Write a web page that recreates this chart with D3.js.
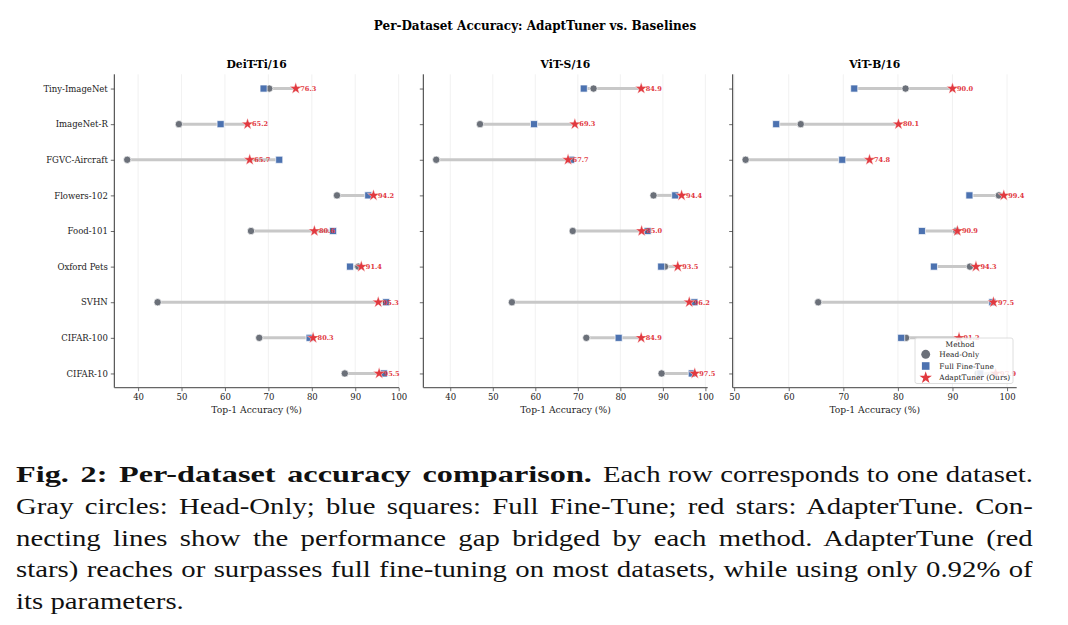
<!DOCTYPE html>
<html>
<head>
<meta charset="utf-8">
<script src="https://cdn.jsdelivr.net/npm/d3@7"></script>
<style>
body { margin: 0; background: #fff; }
</style>
</head>
<body>
<script>
// data

var datasets = ["Tiny-ImageNet", "ImageNet-R", "FGVC-Aircraft", "Flowers-102", "Food-101", "Oxford Pets", "SVHN", "CIFAR-100", "CIFAR-10"];
var models = ["DeiT-Ti/16", "ViT-S/16", "ViT-B/16"];
var methods = ["Head-Only", "Full Fine-Tune", "AdaptTuner (Ours)"];

// DeiT-Ti/16
var headDeit = [70.2, 49.4, 37.5, 85.8, 66.0, 90.7, 44.5, 67.9, 87.6];
var fullDeit = [68.9, 59.0, 72.5, 93.0, 84.9, 88.8, 97.1, 79.5, 96.6];
var adaptDeit = [76.3, 65.2, 65.7, 94.2, 80.6, 91.4, 95.3, 80.3, 95.5];

// ViT-S/16
var headVitS = [73.7, 47.0, 36.7, 87.8, 68.8, 90.5, 54.5, 72.0, 89.7];
var fullVitS = [71.4, 59.7, 68.4, 92.9, 86.4, 89.6, 97.4, 79.6, 96.8];
var adaptVitS = [84.9, 69.3, 67.7, 94.4, 85.0, 93.5, 96.2, 84.9, 97.5];

// ViT-B/16
var headVitB = [81.4, 62.2, 52.1, 98.5, 90.7, 93.2, 65.4, 81.5, 94.6];
var fullVitB = [72.0, 57.7, 69.8, 93.1, 84.4, 86.6, 97.3, 80.6, 95.1];
var adaptVitB = [90.0, 80.1, 74.8, 99.4, 90.9, 94.3, 97.5, 91.2, 97.9];

var xTicksA = [40, 50, 60, 70, 80, 90, 100];
var xTicksB = [50, 60, 70, 80, 90, 100];

var captionBold = "Fig. 2: Per-dataset accuracy comparison.";
var captionLines = [
  "Each row corresponds to one dataset.",
  "Gray circles: Head-Only; blue squares: Full Fine-Tune; red stars: AdapterTune. Con-",
  "necting lines show the performance gap bridged by each method. AdapterTune (red",
  "stars) reaches or surpasses full fine-tuning on most datasets, while using only 0.92% of",
  "its parameters."
];

// colors
var cHead = "#6b7079";
var cFull = "#4c72b0";
var cAdapt = "#e1393f";
var serif = "DejaVu Serif";

var W = 1068, H = 625;
var svg = d3.select("body").append("svg")
  .attr("width", W)
  .attr("height", H)
  .attr("id", "fig");

// main title
svg.append("text")
  .attr("x", 535)
  .attr("y", 30)
  .attr("text-anchor", "middle")
  .style("font-family", serif)
  .style("font-size", "12px")
  .attr("font-weight", "bold")
  .text("Per-Dataset Accuracy: AdaptTuner vs. Baselines");

// panel layout (pixel extents of each axes box)
var panels = [
  {name: models[0], left: 114.3, right: 399, head: headDeit, full: fullDeit, adapt: adaptDeit, ticks: xTicksA, labels: true},
  {name: models[1], left: 423.3, right: 707.7, head: headVitS, full: fullVitS, adapt: adaptVitS, ticks: xTicksA, labels: false},
  {name: models[2], left: 732.7, right: 1016.7, head: headVitB, full: fullVitB, adapt: adaptVitB, ticks: xTicksB, labels: false}
];
var plotTop = 74.3, plotBottom = 387.7;

var yScale = d3.scaleLinear()
  .domain([-0.4, datasets.length - 1 + 0.4])
  .range([plotTop, plotBottom]);

var sym = {
  head: d3.symbol().type(d3.symbolCircle).size(42),
  full: d3.symbol().type(d3.symbolSquare).size(50),
  adapt: d3.symbol().type(d3.symbolStar).size(44)
};

panels.forEach(function(p) {
  var all = p.head.concat(p.full, p.adapt);
  var lo = d3.min(all), hi = d3.max(all);
  var pad = (hi - lo) * 0.05;

  var xScale = d3.scaleLinear()
    .domain([lo - pad, hi + pad])
    .range([p.left, p.right]);

  var g = svg.append("g").attr("class", "panel");

  // vertical grid
  g.selectAll(".grid")
    .data(p.ticks)
    .enter().append("line")
    .attr("class", "grid")
    .attr("x1", function(d) { return xScale(d); })
    .attr("x2", function(d) { return xScale(d); })
    .attr("y1", plotTop)
    .attr("y2", plotBottom)
    .style("stroke", "#eeeeee")
    .style("stroke-width", 0.8);

  // panel title
  g.append("text")
    .attr("x", (p.left + p.right) / 2)
    .attr("y", 68)
    .attr("text-anchor", "middle")
    .style("font-family", serif)
    .style("font-size", "10.8px")
    .attr("font-weight", "bold")
    .text(p.name);

  // x axis
  var xAxis = g.append("g")
    .attr("transform", "translate(0," + plotBottom + ")")
    .call(d3.axisBottom(xScale).tickValues(p.ticks).tickSize(3.5).tickPadding(2.5));
  xAxis.select(".domain").remove();
  xAxis.selectAll("line").style("stroke", "#444").style("stroke-width", 0.8);
  xAxis.selectAll("text")
    .style("font-family", serif)
    .style("font-size", "8.5px")
    .style("fill", "#222");

  // y axis
  var yAxis = g.append("g")
    .attr("transform", "translate(" + p.left + ",0)")
    .call(d3.axisLeft(yScale)
      .tickValues(d3.range(datasets.length))
      .tickFormat(function(i) { return p.labels ? datasets[i] : ""; })
      .tickSize(3.5).tickPadding(3));
  yAxis.select(".domain").remove();
  yAxis.selectAll("line").style("stroke", "#444").style("stroke-width", 0.8);
  yAxis.selectAll("text")
    .style("font-family", serif)
    .style("font-size", "8.5px")
    .style("fill", "#222");

  // spines
  g.append("line")
    .attr("x1", p.left).attr("x2", p.left)
    .attr("y1", plotTop).attr("y2", plotBottom)
    .style("stroke", "#333").style("stroke-width", 1);
  g.append("line")
    .attr("x1", p.left).attr("x2", p.right)
    .attr("y1", plotBottom).attr("y2", plotBottom)
    .style("stroke", "#666").style("stroke-width", 1.3);

  // x label
  g.append("text")
    .attr("x", (p.left + p.right) / 2)
    .attr("y", 413)
    .attr("text-anchor", "middle")
    .style("font-family", serif)
    .style("font-size", "9.2px")
    .style("fill", "#222")
    .text("Top-1 Accuracy (%)");

  var rows = datasets.map(function(name, i) {
    return {i: i, head: p.head[i], full: p.full[i], adapt: p.adapt[i]};
  });

  // connecting gap lines
  g.selectAll(".gap")
    .data(rows)
    .enter().append("line")
    .attr("class", "gap")
    .attr("x1", function(d) { return xScale(Math.min(d.head, d.full, d.adapt)); })
    .attr("x2", function(d) { return xScale(Math.max(d.head, d.full, d.adapt)); })
    .attr("y1", function(d) { return yScale(d.i); })
    .attr("y2", function(d) { return yScale(d.i); })
    .style("stroke", "#c8c8c8")
    .style("stroke-width", 3);

  // markers
  ["head", "full", "adapt"].forEach(function(key) {
    var col = key == "head" ? cHead : (key == "full" ? cFull : cAdapt);
    g.selectAll(".m-" + key)
      .data(rows)
      .enter().append("path")
      .attr("class", "m-" + key)
      .attr("d", sym[key])
      .attr("transform", function(d) { return "translate(" + xScale(d[key]) + "," + yScale(d.i) + ")"; })
      .style("fill", col)
      .style("stroke", "#fff")
      .style("stroke-width", key == "adapt" ? 0.4 : 0.7);
  });

  // value labels next to stars
  g.selectAll(".val")
    .data(rows)
    .enter().append("text")
    .attr("class", "val")
    .attr("x", function(d) { return xScale(d.adapt) + 4.5; })
    .attr("y", function(d) { return yScale(d.i) + 2.3; })
    .style("font-family", serif)
    .style("font-size", "6.6px")
    .attr("font-weight", "bold")
    .style("fill", cAdapt)
    .text(function(d) { return d.adapt.toFixed(1); });
});

// legend in the last panel
var lg = svg.append("g").attr("transform", "translate(915,338)");
lg.append("rect")
  .attr("width", 98)
  .attr("height", 45.5)
  .attr("rx", 2)
  .style("fill", "#fff")
  .style("fill-opacity", 0.85)
  .style("stroke", "#d6d6d6")
  .style("stroke-width", 0.8);
lg.append("text")
  .attr("x", 45)
  .attr("y", 8.7)
  .attr("text-anchor", "middle")
  .style("font-family", serif)
  .style("font-size", "7.4px")
  .style("fill", "#222")
  .text("Method");
var legendSym = [
  d3.symbol().type(d3.symbolCircle).size(62),
  d3.symbol().type(d3.symbolSquare).size(58),
  d3.symbol().type(d3.symbolStar).size(48)
];
var legendCol = [cHead, cFull, cAdapt];
methods.forEach(function(m, i) {
  var yy = 16.3 + i * 11.7;
  lg.append("path")
    .attr("d", legendSym[i])
    .attr("transform", "translate(10.7," + yy + ")")
    .style("fill", legendCol[i]);
  lg.append("text")
    .attr("x", 24.3)
    .attr("y", yy + 2.6)
    .style("font-family", serif)
    .style("font-size", "7.4px")
    .style("fill", "#222")
    .text(m);
});

// caption below the figure: Times glyphs widened a bit (closer to the LaTeX font),
// then justified by stretching the word gaps
var capFont = "'Liberation Serif', 'Times New Roman', serif";
var cap = svg.append("g").attr("id", "caption");

var capRows = [
  {text: captionBold, x: 16, y: 482, len: 576, bold: true},
  {text: captionLines[0], x: 603, y: 482, len: 430, bold: false},
  {text: captionLines[1], x: 16, y: 514, len: 1017, bold: false},
  {text: captionLines[2], x: 16, y: 545.7, len: 1017, bold: false},
  {text: captionLines[3], x: 16, y: 577.3, len: 1017, bold: false},
  {text: captionLines[4], x: 16, y: 608.5, len: 0, bold: false}
];

var capNodes = capRows.map(function(r) {
  return cap.append("text")
    .attr("transform", "translate(" + r.x + "," + r.y + ")")
    .style("font-family", capFont)
    .style("font-size", "23px")
    .style("fill", "#111")
    .attr("font-weight", r.bold ? "bold" : "normal")
    .text(r.text);
});

// widen factor from the tightest full line
var widen = d3.min(capRows.slice(2, 5), function(r, i) {
  return r.len / capNodes[i + 2].node().getComputedTextLength();
}) * 0.985;

capRows.forEach(function(r, i) {
  var t = capNodes[i];
  var nat = t.node().getComputedTextLength();
  var s = r.bold ? (r.len / nat) * 0.975 : Math.min(widen, r.len > 0 ? r.len / nat : widen);
  t.attr("transform", "translate(" + r.x + "," + r.y + ") scale(" + s + ",1)");
  if (r.len > 0) {
    var gaps = (r.text.match(/ /g) || []).length;
    var extra = r.len / s - nat;
    if (gaps > 0 && extra > 0) t.style("word-spacing", (extra / gaps) + "px");
  }
});
</script>
</body>
</html>
